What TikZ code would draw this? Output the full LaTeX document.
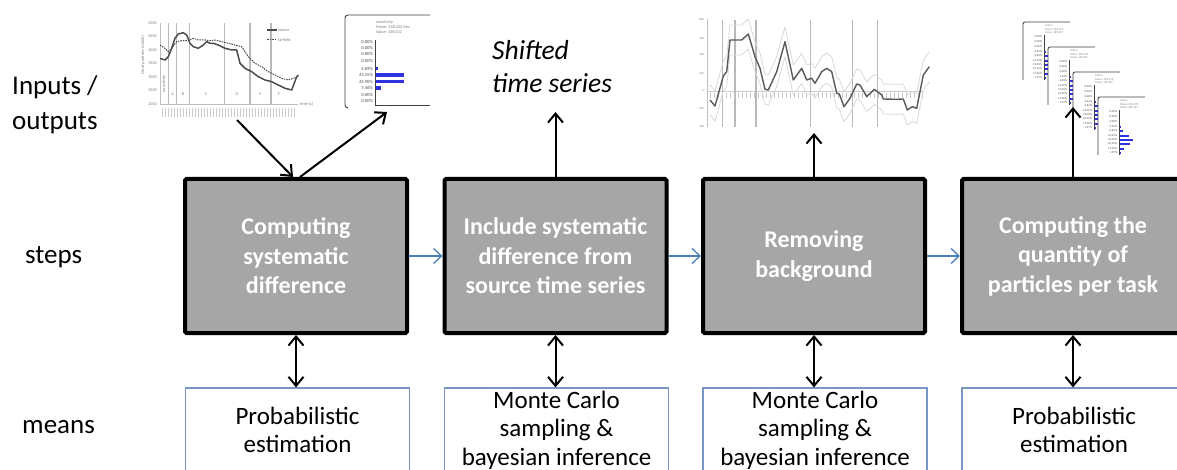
\documentclass[tikz,border=0pt]{standalone}
\usepackage{fontspec}
\setmainfont{Carlito}
\usetikzlibrary{arrows.meta}
\definecolor{boxgray}{RGB}{166,166,166}
\definecolor{meanblue}{RGB}{120,150,195}
\definecolor{arrblue}{RGB}{74,126,187}
\definecolor{barblue}{RGB}{50,50,225}
\definecolor{chartgray}{RGB}{185,185,185}
\begin{document}
\begin{tikzpicture}[x=1pt,y=-1pt,
  stepbox/.style={draw=black, line width=4pt, fill=boxgray, minimum width=222pt,
    minimum height=154pt, inner sep=0pt, text=white, align=center,
    font=\fontsize{24}{29.5}\selectfont\bfseries, rounded corners=1.5pt},
  meanbox/.style={draw=meanblue, line width=1.2pt, fill=white, minimum width=224pt,
    minimum height=84pt, inner sep=0pt, align=center,
    font=\fontsize{25}{28.5}\selectfont},
  rowlbl/.style={anchor=base west, inner sep=0pt, font=\fontsize{27}{33}\selectfont},
  arr/.style={-{Straight Barb[length=9pt,width=15pt]}, line width=2pt, black},
  dbl/.style={{Straight Barb[length=9pt,width=15pt]}-{Straight Barb[length=9pt,width=15pt]}, line width=2pt, black},
  flow/.style={-{Straight Barb[length=8pt,width=15pt]}, line width=1.3pt, arrblue},
  tiny/.style={inner sep=0pt, text=gray, font=\fontsize{4.2}{4.5}\selectfont},
  hlbl/.style={inner sep=0pt, text=black!70, font=\fontsize{4.6}{5}\selectfont},
  tinier/.style={inner sep=0pt, text=gray, font=\fontsize{2.9}{3}\selectfont},
  sep/.style={chartgray, line width=1.3pt},
  panel/.style={draw=black!75, line width=0.9pt}
]
\useasboundingbox (0,0) rectangle (1177,470);
\clip (0,0) rectangle (1177,470);
\fill[white] (0,0) rectangle (1177,470);

% ---------- row labels ----------
\node[rowlbl] (lin) at (12,95) {Inputs /};
\node[rowlbl] (lout) at (12,130) {outputs};
\node[rowlbl] (lsteps) at (25,263) {steps};
\node[rowlbl] (lmeans) at (22,433) {means};

% ---------- chart 1 : time series ----------
\draw[gray!50, line width=0.6pt] (160,23) -- (160,104) -- (298,104);
\foreach \v/\yy in {5000/23,4500/36.5,4000/50,3500/63.5,3000/77,2500/90.5,2000/104}
  \node[tiny, anchor=east] at (157,\yy) {\v};
\node[tiny, rotate=90] (ytit) at (143,55) {Nb of particles (x1000)};
\foreach \xx in {168.3,176.7,189.3,224.3,250,271}
  \draw[sep] (\xx,23) -- (\xx,104);
\foreach \l/\xx in {A/172.5,B/183,C/206,D/237,E/260.5,F/279}
  \node[tiny] at (\xx,94) {\l};
\node[tiny, rotate=90] at (164,84) {no activity};
\foreach \xx in {162,165,...,296}
  \draw[gray!40, line width=0.7pt] (\xx,108) -- (\xx,117);
\node[tiny, anchor=west] at (300,104) {time [s]};
\draw[black!70, line width=1.5pt, line join=round]
  plot coordinates {(160,58.3) (165,60) (168.3,56.7) (171.7,48.3) (175,38.3) (178.3,34)
  (183.3,32.7) (186.7,35) (190,43.3) (193.3,46.7) (198.3,48.3) (203.3,45) (206.7,41.7)
  (210,43.3) (213.3,43.3) (218.3,45) (221.7,46.7) (225,48.3) (231.7,50) (236.7,50)
  (240,63.3) (245,68.3) (251.7,71.7) (258.3,76.7) (265,80) (271.7,81.7) (278.3,85)
  (285,88.3) (291.7,90) (296.7,76.7) (298.3,75)};
\draw[black!70, line width=1pt, dash pattern=on 1.5pt off 1pt, line join=round]
  plot coordinates {(160,45) (165,48.3) (168.3,51.7) (171.7,48.3) (176.7,41.7) (181.7,40.7)
  (188.3,40.7) (193.3,38.3) (198.3,40) (205,40) (210,40.7) (215,40) (221.7,41.7)
  (228.3,43.3) (235,45) (241.7,46.7) (248.3,56.7) (255,63.3) (261.7,66.7) (268.3,71.7)
  (275,75) (281.7,78.3) (288.3,80) (293.3,78.3) (298.3,76.7)};
\draw[black!70, line width=1.5pt] (267,30) -- (277,30);
\node[tiny, anchor=west] at (278,30) {source};
\draw[black!70, line width=1pt, dash pattern=on 1.5pt off 1pt] (267,40) -- (277,40);
\node[tiny, anchor=west] at (278,40) {farfield};

% ---------- histogram 1 ----------
\draw[panel, rounded corners=3pt] (348,108) -- (345,108) -- (345,15) -- (430,15);
\draw[panel] (375,40) -- (375,105) -- (430,105);
\node[tiny, anchor=west] at (376,22) {noactivity};
\node[tiny, anchor=west] at (376,27) {Mean: 348.022 Dev};
\node[tiny, anchor=west] at (376,32) {Value: 348.022};
\foreach \yy/\t in {42/0.00\%,48/0.00\%,54/0.00\%,61/0.00\%,68.5/4.09\%,75/43.55\%,81.5/44.90\%,88/7.46\%,94.5/0.00\%,101/0.00\%}
  \node[hlbl, anchor=east] at (373,\yy) {\t};
\foreach \yy/\w in {68.5/2.5,75/28,81.5/28,88/5.5}
  \fill[barblue] (375.5,\yy-1.8) rectangle (375.5+\w,\yy+1.8);

% ---------- chart 3 : background removed ----------
\draw[gray!50, line width=0.6pt] (707,19) -- (707,127);
\draw[gray!40, line width=0.6pt] (707,91) -- (923,91);
\foreach \v/\yy in {800/19.3,600/38.3,400/55,200/73.3,0/91,-200/108.3,-400/126.7}
  \node[tinier, anchor=east] at (704,\yy) {\v};
\foreach \xx in {722.7,735,756,810.7,852.7,877.7}
  \draw[sep] (\xx,20) -- (\xx,127);
\foreach \xx in {710,714,...,922}
  \draw[gray!45, line width=0.9pt] (\xx,93.5) -- (\xx,98.5);
\foreach \sh in {-15,15}
\draw[gray!30, line width=0.8pt, line join=round, yshift=\sh pt]
  plot coordinates {(710,100) (715,106) (723.3,76) (726.7,71.7) (730,40) (741.7,40)
  (748.3,34) (755,56.7) (760,68.3) (765,89.3) (768.3,90) (776.7,71.7) (785,41.7)
  (793.3,80) (801.7,68.3) (806.7,80) (811.7,78.3) (815,83.3) (821.7,71.7) (826.7,68.3)
  (831.7,71.7) (836.7,93.3) (839.3,94) (844,106.7) (850,98.3) (856.7,84) (860,85)
  (866.7,96.7) (874.3,89.3) (881.7,95) (883.3,99) (896.7,99.3) (903.3,99) (907.3,110)
  (912.3,106.7) (916.7,108.3) (923.3,75) (929.3,66.7)};
\draw[black!65, line width=1.4pt, line join=round]
  plot coordinates {(710,100) (715,106) (723.3,76) (726.7,71.7) (730,40) (741.7,40)
  (748.3,34) (755,56.7) (760,68.3) (765,89.3) (768.3,90) (776.7,71.7) (785,41.7)
  (793.3,80) (801.7,68.3) (806.7,80) (811.7,78.3) (815,83.3) (821.7,71.7) (826.7,68.3)
  (831.7,71.7) (836.7,93.3) (839.3,94) (844,106.7) (850,98.3) (856.7,84) (860,85)
  (866.7,96.7) (874.3,89.3) (881.7,95) (883.3,99) (896.7,99.3) (903.3,99) (907.3,110)
  (912.3,106.7) (916.7,108.3) (923.3,75) (929.3,66.7)};

% ---------- stacked task histograms ----------
\foreach \cx/\cy in {1023/22,1048/47,1073/72,1098/97}{
  \fill[white] (\cx-0.5,\cy-0.5) rectangle (\cx+47,\cy+58);
  \draw[panel, rounded corners=2pt] (\cx,\cy+58) -- (\cx,\cy) -- (\cx+47,\cy);
  \draw[panel] (\cx+21,\cy+13) -- (\cx+21,\cy+58);
  \node[tinier, anchor=west] at (\cx+22,\cy+4) {Task A};
  \node[tinier, anchor=west] at (\cx+22,\cy+7.5) {Mean: 469.273};
  \node[tinier, anchor=west] at (\cx+22,\cy+11) {Value: 469.527};
  \foreach \r/\t in {15/0.00\,\%,20/0.00\,\%,25/0.00\,\%,30/3.64\,\%,34/6.83\,\%,39/21.02\,\%,43/31.06\,\%,47/24.32\,\%,52/11.06\,\%,56/1.97\,\%}
    \node[tinier, text=black!70, anchor=east] at (\cx+19.5,\cy+\r) {\t};
  \foreach \r/\w in {30/1.6,34/3.2,39/9.3,43/13.3,47/10.8,52/4.6,56/0.9}
    \fill[barblue] (\cx+21.5,\cy+\r-1.3) rectangle (\cx+21.5+\w,\cy+\r+1.3);
}

% ---------- output text ----------
\node[inner sep=0pt, anchor=base west, font=\fontsize{27.5}{33}\selectfont\itshape] (sh1) at (492,60) {Shifted};
\node[inner sep=0pt, anchor=base west, font=\fontsize{27.5}{33}\selectfont\itshape] (sh2) at (492,93) {time series};

% ---------- steps ----------
\node[stepbox] (s1) at (296,256) {Computing\\systematic\\difference};
\node[stepbox] (s2) at (555.5,256) {Include systematic\\difference from\\source time series};
\node[stepbox] (s3) at (814,256) {Removing\\background};
\node[stepbox] (s4) at (1073,256) {Computing the\\quantity of\\particles per task};

% ---------- means ----------
\node[meanbox] (m1) at (297.5,430) {Probabilistic\\estimation};
\node[meanbox] (m2) at (556.5,430) {Monte Carlo\\sampling \&\\bayesian inference};
\node[meanbox] (m3) at (815,430) {Monte Carlo\\sampling \&\\bayesian inference};
\node[meanbox] (m4) at (1074,430) {Probabilistic\\estimation};

% ---------- connectors ----------
\draw[flow] (s1.east) -- (s2.west);
\draw[flow] (s2.east) -- (s3.west);
\draw[flow] (s3.east) -- (s4.west);

\foreach \i in {1,2,3,4}
  \draw[dbl] (s\i.south) -- (s\i.south |- m\i.north);

\coordinate (in1) at (237,120);
\coordinate (out1) at (387,112);
\coordinate (o2) at (555.5,112);
\coordinate (o3) at (814,133);
\coordinate (o4) at (1073,107);
\draw[arr] (in1) -- ([xshift=-3pt]s1.north);
\draw[arr] ([xshift=4pt]s1.north) -- (out1);
\draw[arr] (s2.north) -- (o2);
\draw[arr] (s3.north) -- (o3);
\draw[arr] (s4.north) -- (o4);
\end{tikzpicture}
\end{document}
